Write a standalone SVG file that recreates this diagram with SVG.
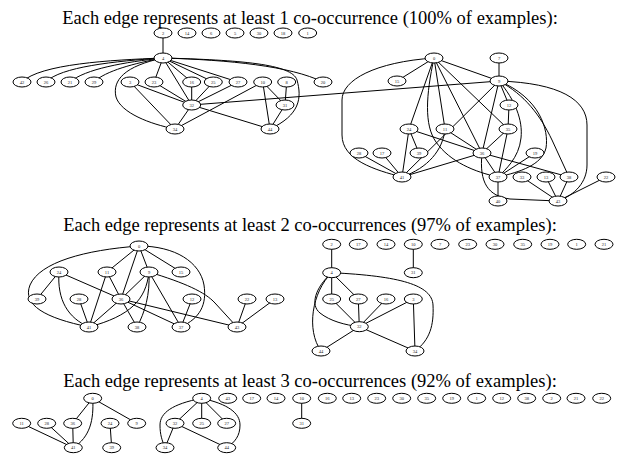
<svg xmlns="http://www.w3.org/2000/svg" width="621" height="461" viewBox="0 0 621 461">
<style>
  .title { font-family: "Liberation Serif", "Times New Roman", serif; font-size: 18.5px; text-anchor: middle; fill: #000; }
  .e path { fill: none; stroke: #000; stroke-width: 1; }
  .n ellipse { fill: #fff; stroke: #000; stroke-width: 1; }
  .n text { font-family: "Liberation Serif", "Times New Roman", serif; font-size: 4.5px; text-anchor: middle; fill: #222; }
</style>
<rect width="621" height="461" fill="#fff"/>

<!-- headings -->
<text class="title" x="310" y="24">Each edge represents at least 1 co-occurrence (100% of examples):</text>
<text class="title" x="310" y="231">Each edge represents at least 2 co-occurrences (97% of examples):</text>
<text class="title" x="310" y="387">Each edge represents at least 3 co-occurrences (92% of examples):</text>

<!-- ===== threshold 1 ===== -->
<g id="edges-t1" class="e">
  <path d="M163,33 L163,58"/>
  <path d="M163,58 C110,60 40,64 22,82"/>
  <path d="M163,58 C115,61 60,67 46,82"/>
  <path d="M163,58 C125,62 85,69 70,82"/>
  <path d="M163,58 C135,63 105,71 94,82"/>
  <path d="M163,58 C125,66 112,80 116,97 C121,113 150,124 175,129"/>
  <path d="M163,58 L154,82"/>
  <path d="M163,58 L191.7,105"/>
  <path d="M163,58 L191.7,82"/>
  <path d="M163,58 L213.3,82"/>
  <path d="M163,58 L238,82"/>
  <path d="M163,58 C230,60 290,66 323,82"/>
  <path d="M163,58 C240,60 292,64 297,80 C302,98 300,115 270,129"/>
  <path d="M130,82 L175,129"/>
  <path d="M130,82 L191.7,105"/>
  <path d="M154,82 L191.7,105"/>
  <path d="M191.7,82 L191.7,105"/>
  <path d="M213.3,82 L191.7,105"/>
  <path d="M238,82 L191.7,105"/>
  <path d="M191.7,105 L175,129"/>
  <path d="M191.7,105 L270,129"/>
  <path d="M262.7,82 L175,129"/>
  <path d="M262.7,82 L285,105"/>
  <path d="M262.7,82 L270,129"/>
  <path d="M286.7,82 L285,105"/>
  <path d="M285,105 L270,129"/>
  <path d="M191.7,105 L499,81"/>

  <path d="M434,58 L397,81"/>
  <path d="M434,58 L499,81"/>
  <path d="M434,58 L409,129"/>
  <path d="M434,58 L445,129"/>
  <path d="M434,58 L482,153"/>
  <path d="M434,58 L508,129"/>
  <path d="M434,58 C375,62 342,80 342,100 L342,135 C342,160 375,170 402,177"/>
  <path d="M434,58 C426,95 424,125 436,142 C450,162 475,172 498,177"/>
  <path d="M499,58 L499,81"/>
  <path d="M499,81 L402,177"/>
  <path d="M499,81 L482,153"/>
  <path d="M499,81 L509,105"/>
  <path d="M499,81 C540,98 549,130 546,148 C542,165 520,172 498,177"/>
  <path d="M499,81 C515,100 523,120 521,138 C519,158 505,170 498,177"/>
  <path d="M499,81 C525,95 540,115 552,140 L569,177"/>
  <path d="M499,81 C560,83 587,100 587,125 L587,165 C587,182 575,195 558,201"/>
  <path d="M509,105 L508,129"/>
  <path d="M508,129 L482,153"/>
  <path d="M508,129 L498,177"/>
  <path d="M482,153 L498,177"/>
  <path d="M482,153 L569,177"/>
  <path d="M482,153 L402,177"/>
  <path d="M482,153 C479,183 488,196 510,199 L558,201"/>
  <path d="M409,129 L482,153"/>
  <path d="M445,129 L482,153"/>
  <path d="M535,153 L498,177"/>
  <path d="M498,177 L498,201"/>
  <path d="M409,129 L419,153"/>
  <path d="M409,129 L402,177"/>
  <path d="M359,153 L402,177"/>
  <path d="M382,153 L402,177"/>
  <path d="M445,129 C443,150 428,168 402,177"/>
  <path d="M522,177 L558,201"/>
  <path d="M546,177 L558,201"/>
  <path d="M569,177 L558,201"/>
  <path d="M606,177 L558,201"/>
</g>

<g id="t1-n2" class="n"><ellipse cx="163" cy="33" rx="9" ry="5"/><text x="163" y="34.6">2</text></g>
<g id="t1-n14" class="n"><ellipse cx="187" cy="33" rx="9" ry="5"/><text x="187" y="34.6">14</text></g>
<g id="t1-n6" class="n"><ellipse cx="211" cy="33" rx="9" ry="5"/><text x="211" y="34.6">6</text></g>
<g id="t1-n5" class="n"><ellipse cx="235" cy="33" rx="9" ry="5"/><text x="235" y="34.6">5</text></g>
<g id="t1-n30" class="n"><ellipse cx="259" cy="33" rx="9" ry="5"/><text x="259" y="34.6">30</text></g>
<g id="t1-n18" class="n"><ellipse cx="283" cy="33" rx="9" ry="5"/><text x="283" y="34.6">18</text></g>
<g id="t1-n1" class="n"><ellipse cx="307.7" cy="33" rx="9" ry="5"/><text x="307.7" y="34.6">1</text></g>
<g id="t1-n4" class="n"><ellipse cx="163" cy="58" rx="9" ry="5"/><text x="163" y="59.6">4</text></g>
<g id="t1-n42" class="n"><ellipse cx="22" cy="82" rx="9" ry="5"/><text x="22" y="83.6">42</text></g>
<g id="t1-n26" class="n"><ellipse cx="46" cy="82" rx="9" ry="5"/><text x="46" y="83.6">26</text></g>
<g id="t1-n21" class="n"><ellipse cx="70" cy="82" rx="9" ry="5"/><text x="70" y="83.6">21</text></g>
<g id="t1-n29" class="n"><ellipse cx="94" cy="82" rx="9" ry="5"/><text x="94" y="83.6">29</text></g>
<g id="t1-n3" class="n"><ellipse cx="130" cy="82" rx="9" ry="5"/><text x="130" y="83.6">3</text></g>
<g id="t1-n23" class="n"><ellipse cx="154" cy="82" rx="9" ry="5"/><text x="154" y="83.6">23</text></g>
<g id="t1-n16" class="n"><ellipse cx="191.7" cy="82" rx="9" ry="5"/><text x="191.7" y="83.6">16</text></g>
<g id="t1-n25" class="n"><ellipse cx="213.3" cy="82" rx="9" ry="5"/><text x="213.3" y="83.6">25</text></g>
<g id="t1-n27" class="n"><ellipse cx="238" cy="82" rx="9" ry="5"/><text x="238" y="83.6">27</text></g>
<g id="t1-n10" class="n"><ellipse cx="262.7" cy="82" rx="9" ry="5"/><text x="262.7" y="83.6">10</text></g>
<g id="t1-n8" class="n"><ellipse cx="286.7" cy="82" rx="9" ry="5"/><text x="286.7" y="83.6">8</text></g>
<g id="t1-n20" class="n"><ellipse cx="323" cy="82" rx="9" ry="5"/><text x="323" y="83.6">20</text></g>
<g id="t1-n32" class="n"><ellipse cx="191.7" cy="105" rx="9" ry="5"/><text x="191.7" y="106.6">32</text></g>
<g id="t1-n31" class="n"><ellipse cx="285" cy="105" rx="9" ry="5"/><text x="285" y="106.6">31</text></g>
<g id="t1-n34" class="n"><ellipse cx="175" cy="129" rx="9" ry="5"/><text x="175" y="130.6">34</text></g>
<g id="t1-n44" class="n"><ellipse cx="270" cy="129" rx="9" ry="5"/><text x="270" y="130.6">44</text></g>

<g id="t1-n0" class="n"><ellipse cx="434" cy="58" rx="9" ry="5"/><text x="434" y="59.6">0</text></g>
<g id="t1-n7" class="n"><ellipse cx="499" cy="58" rx="9" ry="5"/><text x="499" y="59.6">7</text></g>
<g id="t1-n15" class="n"><ellipse cx="397" cy="81" rx="9" ry="5"/><text x="397" y="82.6">15</text></g>
<g id="t1-n9" class="n"><ellipse cx="499" cy="81" rx="9" ry="5"/><text x="499" y="82.6">9</text></g>
<g id="t1-n12" class="n"><ellipse cx="509" cy="105" rx="9" ry="5"/><text x="509" y="106.6">12</text></g>
<g id="t1-n24" class="n"><ellipse cx="409" cy="129" rx="9" ry="5"/><text x="409" y="130.6">24</text></g>
<g id="t1-n11" class="n"><ellipse cx="445" cy="129" rx="9" ry="5"/><text x="445" y="130.6">11</text></g>
<g id="t1-n35" class="n"><ellipse cx="508" cy="129" rx="9" ry="5"/><text x="508" y="130.6">35</text></g>
<g id="t1-n28" class="n"><ellipse cx="359" cy="153" rx="9" ry="5"/><text x="359" y="154.6">28</text></g>
<g id="t1-n17" class="n"><ellipse cx="382" cy="153" rx="9" ry="5"/><text x="382" y="154.6">17</text></g>
<g id="t1-n39" class="n"><ellipse cx="419" cy="153" rx="9" ry="5"/><text x="419" y="154.6">39</text></g>
<g id="t1-n36" class="n"><ellipse cx="482" cy="153" rx="9" ry="5"/><text x="482" y="154.6">36</text></g>
<g id="t1-n19" class="n"><ellipse cx="535" cy="153" rx="9" ry="5"/><text x="535" y="154.6">19</text></g>
<g id="t1-n41" class="n"><ellipse cx="402" cy="177" rx="9" ry="5"/><text x="402" y="178.6">41</text></g>
<g id="t1-n37" class="n"><ellipse cx="498" cy="177" rx="9" ry="5"/><text x="498" y="178.6">37</text></g>
<g id="t1-n33" class="n"><ellipse cx="522" cy="177" rx="9" ry="5"/><text x="522" y="178.6">33</text></g>
<g id="t1-n13" class="n"><ellipse cx="546" cy="177" rx="9" ry="5"/><text x="546" y="178.6">13</text></g>
<g id="t1-n38" class="n"><ellipse cx="569" cy="177" rx="9" ry="5"/><text x="569" y="178.6">38</text></g>
<g id="t1-n22" class="n"><ellipse cx="606" cy="177" rx="9" ry="5"/><text x="606" y="178.6">22</text></g>
<g id="t1-n40" class="n"><ellipse cx="498" cy="201" rx="9" ry="5"/><text x="498" y="202.6">40</text></g>
<g id="t1-n43" class="n"><ellipse cx="558" cy="201" rx="9" ry="5"/><text x="558" y="202.6">43</text></g>

<!-- ===== threshold 2 ===== -->
<g id="edges-t2" class="e">
  <path d="M139,246 C85,250 40,262 30,285 C22,305 45,318 89,327"/>
  <path d="M139,246 L107,272"/>
  <path d="M139,246 L121,299"/>
  <path d="M139,246 L149,272"/>
  <path d="M139,246 L181,272"/>
  <path d="M139,246 C175,246 200,262 204,285 C207,305 200,318 181,327"/>
  <path d="M59,272 L37,299"/>
  <path d="M59,272 C57,300 68,318 89,327"/>
  <path d="M59,272 L121,299"/>
  <path d="M107,272 L121,299"/>
  <path d="M107,272 L89,327"/>
  <path d="M79,299 L89,327"/>
  <path d="M121,299 L89,327"/>
  <path d="M121,299 L137,327"/>
  <path d="M121,299 L181,327"/>
  <path d="M121,299 L237,327"/>
  <path d="M149,272 L121,299"/>
  <path d="M149,272 C146,300 130,316 89,327"/>
  <path d="M149,272 C150,295 145,312 137,327"/>
  <path d="M149,272 L181,327"/>
  <path d="M149,272 C185,283 205,292 215,303 L237,327"/>
  <path d="M192,299 L181,327"/>
  <path d="M247,299 L237,327"/>
  <path d="M275,299 L237,327"/>

  <path d="M331.7,244.3 L331.7,272.7"/>
  <path d="M413.3,244.3 L413.3,272.7"/>
  <path d="M331.7,272.7 L331.7,299"/>
  <path d="M331.7,272.7 L358.3,299"/>
  <path d="M331.7,272.7 C315,288 310,305 320,313 C330,321 345,325 359.3,326.7"/>
  <path d="M331.7,272.7 C312,292 306,330 321,351"/>
  <path d="M331.7,272.7 C400,276 432,285 433,305 C434,325 430,340 415,351"/>
  <path d="M331.7,299 L359.3,326.7"/>
  <path d="M358.3,299 L359.3,326.7"/>
  <path d="M386,299 L359.3,326.7"/>
  <path d="M413.3,299 L359.3,326.7"/>
  <path d="M413.3,299 L415,351"/>
  <path d="M359.3,326.7 L321,351"/>
  <path d="M359.3,326.7 L415,351"/>
</g>

<g id="t2-n0" class="n"><ellipse cx="139" cy="246" rx="9" ry="5"/><text x="139" y="247.6">0</text></g>
<g id="t2-n24" class="n"><ellipse cx="59" cy="272" rx="9" ry="5"/><text x="59" y="273.6">24</text></g>
<g id="t2-n11" class="n"><ellipse cx="107" cy="272" rx="9" ry="5"/><text x="107" y="273.6">11</text></g>
<g id="t2-n9" class="n"><ellipse cx="149" cy="272" rx="9" ry="5"/><text x="149" y="273.6">9</text></g>
<g id="t2-n15" class="n"><ellipse cx="181" cy="272" rx="9" ry="5"/><text x="181" y="273.6">15</text></g>
<g id="t2-n39" class="n"><ellipse cx="37" cy="299" rx="9" ry="5"/><text x="37" y="300.6">39</text></g>
<g id="t2-n28" class="n"><ellipse cx="79" cy="299" rx="9" ry="5"/><text x="79" y="300.6">28</text></g>
<g id="t2-n36" class="n"><ellipse cx="121" cy="299" rx="9" ry="5"/><text x="121" y="300.6">36</text></g>
<g id="t2-n12" class="n"><ellipse cx="192" cy="299" rx="9" ry="5"/><text x="192" y="300.6">12</text></g>
<g id="t2-n22" class="n"><ellipse cx="247" cy="299" rx="9" ry="5"/><text x="247" y="300.6">22</text></g>
<g id="t2-n13" class="n"><ellipse cx="275" cy="299" rx="9" ry="5"/><text x="275" y="300.6">13</text></g>
<g id="t2-n41" class="n"><ellipse cx="89" cy="327" rx="9" ry="5"/><text x="89" y="328.6">41</text></g>
<g id="t2-n38" class="n"><ellipse cx="137" cy="327" rx="9" ry="5"/><text x="137" y="328.6">38</text></g>
<g id="t2-n37" class="n"><ellipse cx="181" cy="327" rx="9" ry="5"/><text x="181" y="328.6">37</text></g>
<g id="t2-n43" class="n"><ellipse cx="237" cy="327" rx="9" ry="5"/><text x="237" y="328.6">43</text></g>

<g id="t2-n2" class="n"><ellipse cx="331.7" cy="244.3" rx="9" ry="5"/><text x="331.7" y="245.9">2</text></g>
<g id="t2-n17" class="n"><ellipse cx="358.3" cy="244.3" rx="9" ry="5"/><text x="358.3" y="245.9">17</text></g>
<g id="t2-n14" class="n"><ellipse cx="386" cy="244.3" rx="9" ry="5"/><text x="386" y="245.9">14</text></g>
<g id="t2-n10" class="n"><ellipse cx="413.3" cy="244.3" rx="9" ry="5"/><text x="413.3" y="245.9">10</text></g>
<g id="t2-n7" class="n"><ellipse cx="440" cy="244.3" rx="9" ry="5"/><text x="440" y="245.9">7</text></g>
<g id="t2-n23" class="n"><ellipse cx="467.7" cy="244.3" rx="9" ry="5"/><text x="467.7" y="245.9">23</text></g>
<g id="t2-n30" class="n"><ellipse cx="495" cy="244.3" rx="9" ry="5"/><text x="495" y="245.9">30</text></g>
<g id="t2-n35" class="n"><ellipse cx="522.7" cy="244.3" rx="9" ry="5"/><text x="522.7" y="245.9">35</text></g>
<g id="t2-n19" class="n"><ellipse cx="550" cy="244.3" rx="9" ry="5"/><text x="550" y="245.9">19</text></g>
<g id="t2-n1" class="n"><ellipse cx="576.7" cy="244.3" rx="9" ry="5"/><text x="576.7" y="245.9">1</text></g>
<g id="t2-n21" class="n"><ellipse cx="604" cy="244.3" rx="9" ry="5"/><text x="604" y="245.9">21</text></g>
<g id="t2-n4" class="n"><ellipse cx="331.7" cy="272.7" rx="9" ry="5"/><text x="331.7" y="274.3">4</text></g>
<g id="t2-n31" class="n"><ellipse cx="413.3" cy="272.7" rx="9" ry="5"/><text x="413.3" y="274.3">31</text></g>
<g id="t2-n25" class="n"><ellipse cx="331.7" cy="299" rx="9" ry="5"/><text x="331.7" y="300.6">25</text></g>
<g id="t2-n27" class="n"><ellipse cx="358.3" cy="299" rx="9" ry="5"/><text x="358.3" y="300.6">27</text></g>
<g id="t2-n16" class="n"><ellipse cx="386" cy="299" rx="9" ry="5"/><text x="386" y="300.6">16</text></g>
<g id="t2-n3" class="n"><ellipse cx="413.3" cy="299" rx="9" ry="5"/><text x="413.3" y="300.6">3</text></g>
<g id="t2-n32" class="n"><ellipse cx="359.3" cy="326.7" rx="9" ry="5"/><text x="359.3" y="328.3">32</text></g>
<g id="t2-n44" class="n"><ellipse cx="321" cy="351" rx="9" ry="5"/><text x="321" y="352.6">44</text></g>
<g id="t2-n34" class="n"><ellipse cx="415" cy="351" rx="9" ry="5"/><text x="415" y="352.6">34</text></g>

<!-- ===== threshold 3 ===== -->
<g id="edges-t3" class="e">
  <path d="M92.7,398.3 L72.7,423.3"/>
  <path d="M92.7,398.3 L136.7,423.3"/>
  <path d="M92.7,398.3 C94,420 90,437 73.3,447.7"/>
  <path d="M21.7,423.3 L73.3,447.7"/>
  <path d="M46.7,423.3 L73.3,447.7"/>
  <path d="M72.7,423.3 L73.3,447.7"/>
  <path d="M110,423.3 L111.7,447.7"/>
  <path d="M201.7,398.3 L175,423.3"/>
  <path d="M201.7,398.3 L201.7,423.3"/>
  <path d="M201.7,398.3 L226.7,423.3"/>
  <path d="M201.7,398.3 C172,404 160,413 160,425 C160,435 162,440 165,447.7"/>
  <path d="M201.7,398.3 C228,404 240,413 240,425 C240,436 235,442 226.7,447.7"/>
  <path d="M175,423.3 L165,447.7"/>
  <path d="M175,423.3 L226.7,447.7"/>
  <path d="M301.7,398.3 L301.7,423.3"/>
</g>

<g id="t3-n0" class="n"><ellipse cx="92.7" cy="398.3" rx="9" ry="5"/><text x="92.7" y="399.9">0</text></g>
<g id="t3-n11" class="n"><ellipse cx="21.7" cy="423.3" rx="9" ry="5"/><text x="21.7" y="424.9">11</text></g>
<g id="t3-n28" class="n"><ellipse cx="46.7" cy="423.3" rx="9" ry="5"/><text x="46.7" y="424.9">28</text></g>
<g id="t3-n36" class="n"><ellipse cx="72.7" cy="423.3" rx="9" ry="5"/><text x="72.7" y="424.9">36</text></g>
<g id="t3-n24" class="n"><ellipse cx="110" cy="423.3" rx="9" ry="5"/><text x="110" y="424.9">24</text></g>
<g id="t3-n9" class="n"><ellipse cx="136.7" cy="423.3" rx="9" ry="5"/><text x="136.7" y="424.9">9</text></g>
<g id="t3-n41" class="n"><ellipse cx="73.3" cy="447.7" rx="9" ry="5"/><text x="73.3" y="449.3">41</text></g>
<g id="t3-n39" class="n"><ellipse cx="111.7" cy="447.7" rx="9" ry="5"/><text x="111.7" y="449.3">39</text></g>
<g id="t3-n4" class="n"><ellipse cx="201.7" cy="398.3" rx="9" ry="5"/><text x="201.7" y="399.9">4</text></g>
<g id="t3-n43" class="n"><ellipse cx="227.7" cy="398.3" rx="9" ry="5"/><text x="227.7" y="399.9">43</text></g>
<g id="t3-n17" class="n"><ellipse cx="251.7" cy="398.3" rx="9" ry="5"/><text x="251.7" y="399.9">17</text></g>
<g id="t3-n14" class="n"><ellipse cx="276" cy="398.3" rx="9" ry="5"/><text x="276" y="399.9">14</text></g>
<g id="t3-n10" class="n"><ellipse cx="301.7" cy="398.3" rx="9" ry="5"/><text x="301.7" y="399.9">10</text></g>
<g id="t3-n16" class="n"><ellipse cx="327.3" cy="398.3" rx="9" ry="5"/><text x="327.3" y="399.9">16</text></g>
<g id="t3-n13" class="n"><ellipse cx="351.7" cy="398.3" rx="9" ry="5"/><text x="351.7" y="399.9">13</text></g>
<g id="t3-n23" class="n"><ellipse cx="376.7" cy="398.3" rx="9" ry="5"/><text x="376.7" y="399.9">23</text></g>
<g id="t3-n30" class="n"><ellipse cx="401.7" cy="398.3" rx="9" ry="5"/><text x="401.7" y="399.9">30</text></g>
<g id="t3-n35" class="n"><ellipse cx="426.7" cy="398.3" rx="9" ry="5"/><text x="426.7" y="399.9">35</text></g>
<g id="t3-n19" class="n"><ellipse cx="451.7" cy="398.3" rx="9" ry="5"/><text x="451.7" y="399.9">19</text></g>
<g id="t3-n1" class="n"><ellipse cx="476.7" cy="398.3" rx="9" ry="5"/><text x="476.7" y="399.9">1</text></g>
<g id="t3-n12" class="n"><ellipse cx="501.7" cy="398.3" rx="9" ry="5"/><text x="501.7" y="399.9">12</text></g>
<g id="t3-n38" class="n"><ellipse cx="526.7" cy="398.3" rx="9" ry="5"/><text x="526.7" y="399.9">38</text></g>
<g id="t3-n2" class="n"><ellipse cx="551.7" cy="398.3" rx="9" ry="5"/><text x="551.7" y="399.9">2</text></g>
<g id="t3-n21" class="n"><ellipse cx="576" cy="398.3" rx="9" ry="5"/><text x="576" y="399.9">21</text></g>
<g id="t3-n22" class="n"><ellipse cx="601.7" cy="398.3" rx="9" ry="5"/><text x="601.7" y="399.9">22</text></g>
<g id="t3-n32" class="n"><ellipse cx="175" cy="423.3" rx="9" ry="5"/><text x="175" y="424.9">32</text></g>
<g id="t3-n25" class="n"><ellipse cx="201.7" cy="423.3" rx="9" ry="5"/><text x="201.7" y="424.9">25</text></g>
<g id="t3-n27" class="n"><ellipse cx="226.7" cy="423.3" rx="9" ry="5"/><text x="226.7" y="424.9">27</text></g>
<g id="t3-n31" class="n"><ellipse cx="301.7" cy="423.3" rx="9" ry="5"/><text x="301.7" y="424.9">31</text></g>
<g id="t3-n34" class="n"><ellipse cx="165" cy="447.7" rx="9" ry="5"/><text x="165" y="449.3">34</text></g>
<g id="t3-n44" class="n"><ellipse cx="226.7" cy="447.7" rx="9" ry="5"/><text x="226.7" y="449.3">44</text></g>
</svg>
